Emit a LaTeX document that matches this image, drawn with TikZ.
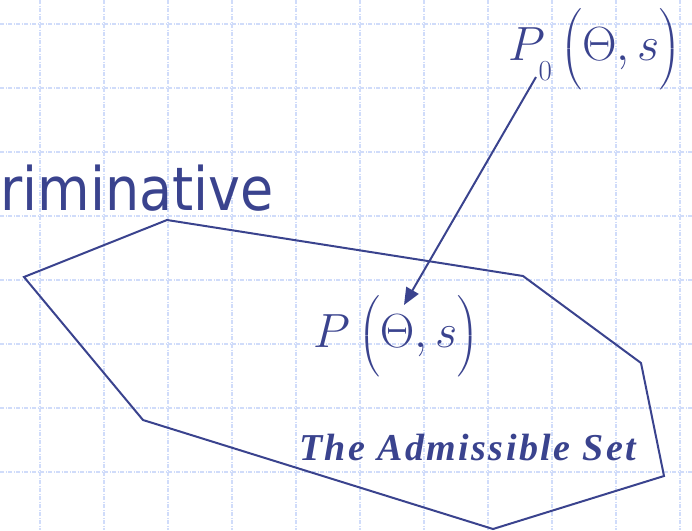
\RequirePackage{fix-cm}
\documentclass[tikz,border=0pt]{standalone}
\usepackage{amsmath}
\usepackage{graphicx}
\usepackage{fontspec}
\usepackage{tikz}
\usetikzlibrary{arrows.meta}
\newfontfamily\headfont[FakeStretch=0.9]{DejaVu Sans}
\newfontfamily\setlabelfont[LetterSpace=6.5]{Liberation Serif}
\definecolor{ink}{RGB}{58, 67, 142}
\definecolor{gridcolor}{RGB}{208, 220, 250}
\newcommand{\bigopen}{\mathopen{\scalebox{1}[0.9]{$\Bigl($}}}
\newcommand{\bigclose}{\mathclose{\scalebox{1}[0.9]{$\Bigr)$}}}
\newcommand{\lowsub}[1]{\raisebox{-13pt}{\fontsize{29}{32}\selectfont #1}}
\tikzset{
  gridrule/.style={draw=gridcolor, line width=1.2pt, dash pattern=on 4pt off 1.5pt on 1pt off 1.5pt},
  setedge/.style={draw=ink, line width=2pt, line join=miter},
  flowline/.style={draw=ink, line width=2pt, -{Triangle[length=17pt, width=14pt]}},
  headtext/.style={text=ink, inner sep=0pt, font=\headfont\fontsize{60}{66}\selectfont},
  mathlabel/.style={text=ink, inner sep=0pt, font=\fontsize{48}{56}\selectfont},
  setlabel/.style={text=ink, inner sep=0pt, font=\setlabelfont\bfseries\itshape\fontsize{38}{44}\selectfont}
}
\begin{document}
\begin{tikzpicture}[x=1pt, y=-1pt]
  \useasboundingbox (0,0) rectangle (692,530);
  \foreach \gx in {40,104,...,680} \draw[gridrule] (\gx,0) -- (\gx,530);
  \foreach \gy in {24,88,...,472} \draw[gridrule] (0,\gy) -- (692,\gy);

  \node[headtext, anchor=base west] (head) at (0,210) {riminative};

  \coordinate (v1) at (24,277);
  \coordinate (v2) at (167,220);
  \coordinate (v3) at (523,276);
  \coordinate (v4) at (641,363);
  \coordinate (v5) at (664,476);
  \coordinate (v6) at (493,529);
  \coordinate (v7) at (143,420);
  \draw[setedge] (v1) -- (v2) -- (v3) -- (v4) -- (v5) -- (v6) -- (v7) -- cycle;

  \node[mathlabel, anchor=base west] (pzero) at (508,60) {$P_{\lowsub{0}}\,\bigopen\Theta,s\bigclose$};
  \node[mathlabel, anchor=base west] (pset) at (313,347) {$P\,\bigopen\Theta,s\bigclose$};
  \node[setlabel, anchor=base west] (admset) at (299,460) {The Admissible Set};

  \coordinate (tail) at (536,77);
  \coordinate (tip) at (404,305);
  \draw[flowline] (tail) -- (tip);
\end{tikzpicture}
\end{document}
